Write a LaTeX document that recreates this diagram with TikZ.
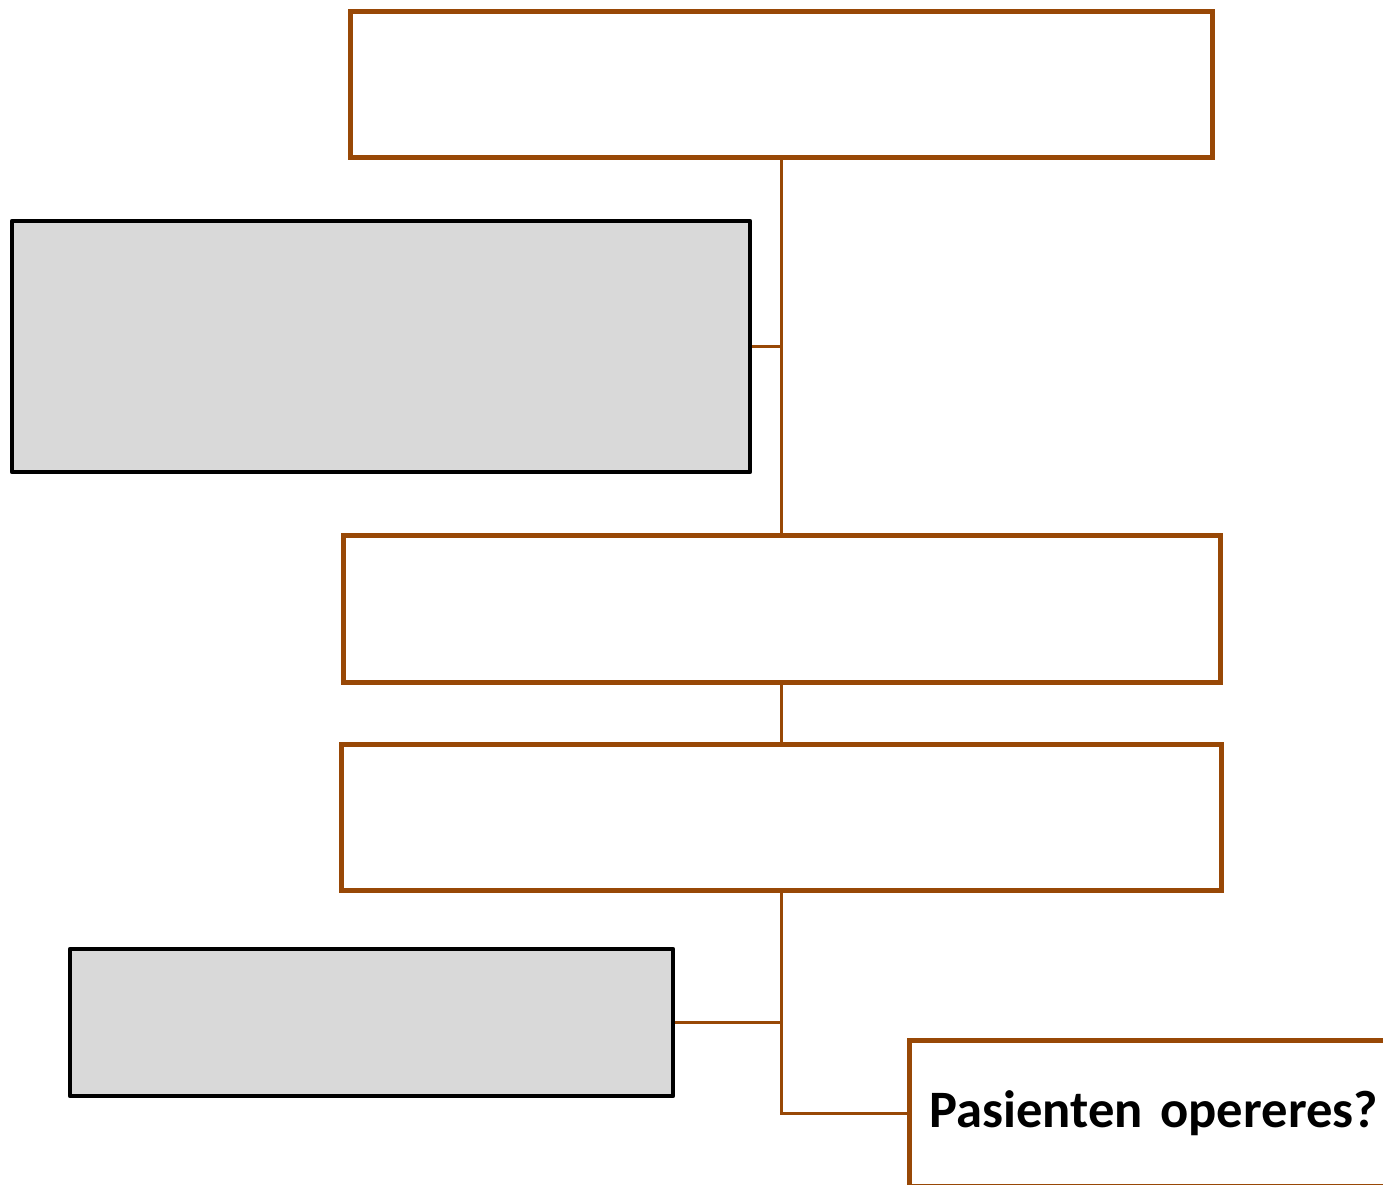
\documentclass[tikz,border=0pt]{standalone}
\usepackage{fontspec}
\setmainfont{Carlito}
\usepackage{tikz}
\definecolor{rust}{RGB}{152,72,6}
\definecolor{boxgrey}{RGB}{217,217,217}

\begin{document}
\begin{tikzpicture}[x=1pt,y=-1pt,
	brownbox/.style={draw=rust, line width=5pt, fill=white, inner sep=0pt},
	greybox/.style={draw=black, line width=4.5pt, fill=boxgrey, line join=round, inner sep=0pt},
	link/.style={draw=rust, line width=3pt}]
	%\draw[help lines] (0,0) grid (1383,1185);
	\useasboundingbox (0,0) rectangle (1383,1185);
	\clip (0,0) rectangle (1383,1185);
	\fill[white] (0,0) rectangle (1383,1185);
	
	\node[brownbox, minimum width=862pt, minimum height=146pt] (TOP) at (781,85) {};
	\node[greybox, minimum width=738pt, minimum height=251pt] (G1) at (381,346.5) {};
	\node[brownbox, minimum width=877pt, minimum height=147pt] (M1) at (781.5,608.5) {};
	\node[brownbox, minimum width=880pt, minimum height=146pt] (M2) at (781,817) {};
	\node[greybox, minimum width=603pt, minimum height=147pt] (G2) at (371.5,1022.5) {};
	\node[brownbox, anchor=north west, minimum height=146pt, text width=480pt, inner xsep=20pt, align=left,
		font=\fontsize{52.6}{60}\selectfont\bfseries] (OP) at (907,1038) {Pasienten opereres?};
	
	%connectors
	\draw[link] (TOP.south) -- (TOP.south |- M1.north);
	\draw[link] (G1.east) -- (G1.east -| TOP.south);
	\draw[link] (M1.south) -- (M1.south |- M2.north);
	\draw[link] (M2.south) |- (OP.west);
	\draw[link] (G2.east) -- (G2.east -| M2.south);
\end{tikzpicture}
\end{document}
